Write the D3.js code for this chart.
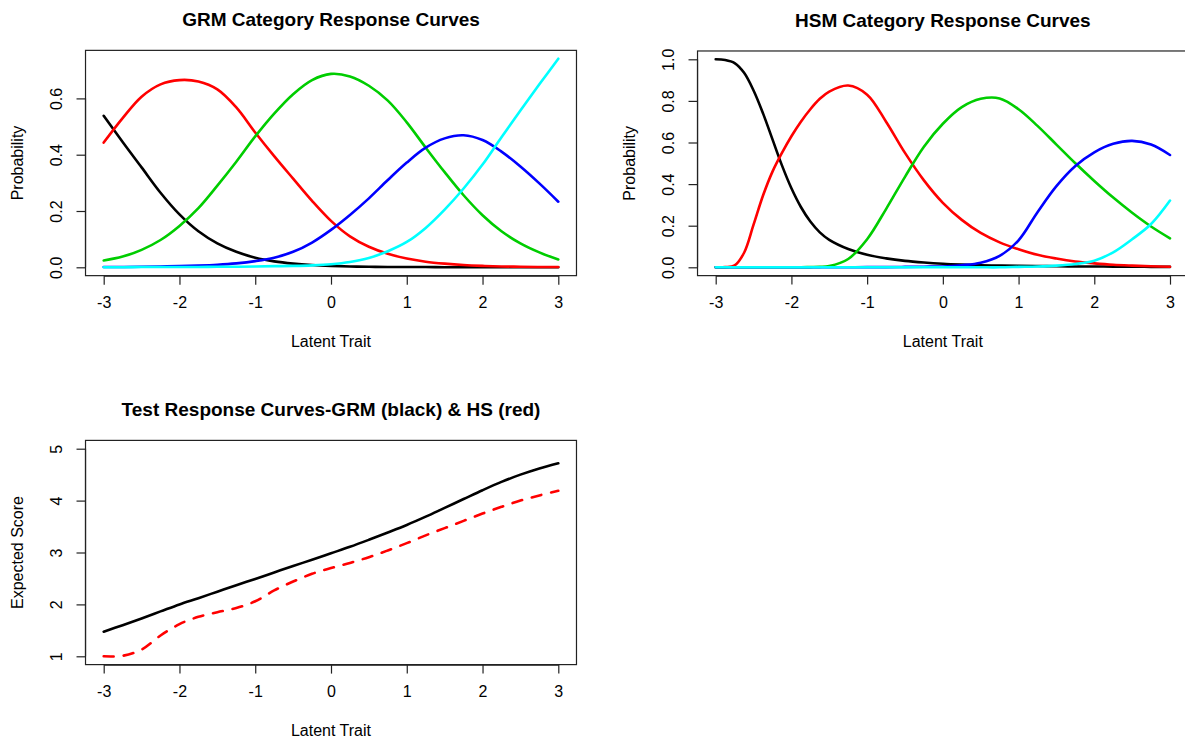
<!DOCTYPE html>
<html>
<head>
<meta charset="utf-8">
<script src="https://cdn.jsdelivr.net/npm/d3@7"></script>
<style>
  html, body { margin: 0; padding: 0; background: #fff; }
  svg { display: block; font-family: "Liberation Sans", Arial, Helvetica, sans-serif; }
  .tick text { font-size: 16px; fill: #000; }
  .axis path, .axis line { stroke: #222; stroke-width: 1.2; }
</style>
</head>
<body>
<svg id="chart" width="1185" height="742"></svg>
<script>
// Latent trait grid for the GRM and test curves
const theta = [-3, -2.75, -2.5, -2.25, -2, -1.75, -1.5, -1.25, -1, -0.75, -0.5, -0.25,
               0, 0.25, 0.5, 0.75, 1, 1.25, 1.5, 1.75, 2, 2.25, 2.5, 2.75, 3];
// Finer grid at the low end where the HSM curves turn sharply
const thetaHSM = [-3, -2.875, -2.75, -2.625, -2.5, -2.375, -2.25, -2.125, -2, -1.875, -1.75, -1.625,
                  -1.5, -1.25, -1, -0.75, -0.5, -0.25, 0, 0.25, 0.5, 0.75, 1, 1.25, 1.5, 1.75,
                  2, 2.25, 2.5, 2.75, 3];

// Graded response model: category response probabilities
const grmCat1 = [0.538, 0.445, 0.355, 0.265, 0.188, 0.128, 0.085, 0.055, 0.034, 0.021, 0.013, 0.008,
                 0.005, 0.003, 0.002, 0.001, 0.001, 0.001, 0, 0, 0, 0, 0, 0, 0];
const grmCat2 = [0.443, 0.530, 0.606, 0.650, 0.665, 0.660, 0.632, 0.568, 0.479, 0.395, 0.315, 0.236,
                 0.165, 0.110, 0.073, 0.048, 0.031, 0.020, 0.013, 0.008, 0.005, 0.003, 0.002, 0.001, 0.001];
const grmCat3 = [0.024, 0.038, 0.062, 0.097, 0.147, 0.210, 0.290, 0.375, 0.465, 0.546, 0.615, 0.665,
                 0.687, 0.678, 0.645, 0.592, 0.515, 0.425, 0.338, 0.256, 0.185, 0.128, 0.085, 0.053, 0.028];
const grmCat4 = [0.001, 0.001, 0.002, 0.003, 0.004, 0.006, 0.009, 0.014, 0.022, 0.034, 0.055, 0.088,
                 0.133, 0.186, 0.245, 0.310, 0.372, 0.425, 0.458, 0.469, 0.452, 0.411, 0.358, 0.298, 0.233];
const grmCat5 = [0, 0, 0.001, 0.001, 0.001, 0.001, 0.002, 0.002, 0.003, 0.004, 0.005, 0.007,
                 0.011, 0.019, 0.033, 0.057, 0.090, 0.140, 0.205, 0.280, 0.365, 0.462, 0.557, 0.650, 0.741];

// Hybrid (HSM) model: category response probabilities, on thetaHSM
const hsmCat1 = [1.000, 0.997, 0.982, 0.935, 0.850, 0.740, 0.615, 0.490, 0.380, 0.290, 0.220, 0.168,
                 0.132, 0.088, 0.060, 0.043, 0.031, 0.023, 0.017, 0.013, 0.010, 0.008, 0.007, 0.006,
                 0.005, 0.004, 0.004, 0.003, 0.003, 0.002, 0.002];
const hsmCat2 = [0, 0.001, 0.009, 0.070, 0.205, 0.345, 0.460, 0.550, 0.630, 0.700, 0.760, 0.810,
                 0.845, 0.874, 0.830, 0.700, 0.550, 0.418, 0.310, 0.228, 0.165, 0.120, 0.087, 0.060,
                 0.042, 0.028, 0.019, 0.012, 0.008, 0.005, 0.003];
const hsmCat3 = [0, 0, 0, 0, 0, 0, 0, 0, 0, 0, 0.001, 0.002,
                 0.006, 0.040, 0.135, 0.280, 0.435, 0.580, 0.690, 0.770, 0.810, 0.812, 0.760, 0.680,
                 0.590, 0.500, 0.415, 0.335, 0.262, 0.196, 0.139];
const hsmCat4 = [0, 0, 0, 0, 0, 0, 0, 0, 0, 0, 0, 0,
                 0, 0, 0.001, 0.001, 0.002, 0.003, 0.004, 0.010, 0.022, 0.055, 0.130, 0.265,
                 0.390, 0.487, 0.553, 0.594, 0.608, 0.590, 0.540];
const hsmCat5 = [0, 0, 0, 0, 0, 0, 0, 0, 0, 0, 0, 0,
                 0, 0, 0, 0, 0, 0, 0, 0, 0, 0, 0.002, 0.004,
                 0.008, 0.016, 0.032, 0.072, 0.135, 0.208, 0.321];

// Test response curves (expected total score)
const trcGRM = [1.475, 1.60, 1.73, 1.865, 2.00, 2.12, 2.245, 2.37, 2.49, 2.615, 2.74, 2.86,
                2.985, 3.11, 3.245, 3.385, 3.53, 3.69, 3.86, 4.03, 4.20, 4.36, 4.50, 4.62, 4.72];
const trcHSM = [1.00, 1.01, 1.13, 1.40, 1.62, 1.76, 1.85, 1.93, 2.06, 2.27, 2.44, 2.59,
                2.70, 2.80, 2.91, 3.04, 3.18, 3.33, 3.47, 3.61, 3.75, 3.88, 4.00, 4.10, 4.19];

// Axis ticks
const xTicks = [-3, -2, -1, 0, 1, 2, 3];
const grmYTicks = [0, 0.2, 0.4, 0.6];
const hsmYTicks = [0, 0.2, 0.4, 0.6, 0.8, 1.0];
const trcYTicks = [1, 2, 3, 4, 5];

const catColors = ["#000000", "#ff0000", "#00cd00", "#0000ff", "#00ffff"];

const svg = d3.select("#chart");
svg.append("rect").attr("width", 1185).attr("height", 742).attr("fill", "#fff");

// plain ASCII hyphen for negative tick labels
const intFmt = d => String(d);
const oneDec = d => d.toFixed(1);

// Draws one base-graphics style panel: box, axes, titles and curves
function panel(opts) {
  const x = d3.scaleLinear().domain([-3, 3]).range(opts.xRange);
  const y = d3.scaleLinear().domain(opts.yDomain).range(opts.yRange);
  const pad = (opts.yLim[1] - opts.yLim[0]) * 0.04;
  const left = x(-3.24), right = x(3.24);
  const top = y(opts.yLim[1] + pad), bottom = y(opts.yLim[0] - pad);
  const g = svg.append("g");

  const clipId = "clip" + Math.round(left) + "_" + Math.round(top);
  g.append("clipPath").attr("id", clipId)
    .append("rect").attr("x", left).attr("y", top)
    .attr("width", right - left).attr("height", bottom - top);

  const cg = g.append("g").attr("clip-path", `url(#${clipId})`);
  opts.series.forEach(s => {
    const line = d3.line()
      .x((d, i) => x(opts.grid[i]))
      .y(d => y(d))
      .curve(d3.curveCatmullRom.alpha(0.5));
    cg.append("path")
      .attr("d", line(s.values))
      .attr("fill", "none")
      .attr("stroke", s.color)
      .attr("stroke-width", 2.6)
      .attr("stroke-linejoin", "round")
      .attr("stroke-linecap", "round")
      .attr("stroke-dasharray", s.dash || null);
  });

  // box
  g.append("rect")
    .attr("x", left).attr("y", top)
    .attr("width", right - left).attr("height", bottom - top)
    .attr("fill", "none").attr("stroke", "#222").attr("stroke-width", 1.2);

  // x axis
  const xa = g.append("g").attr("class", "axis")
    .attr("transform", `translate(0,${bottom})`)
    .call(d3.axisBottom(x).tickValues(xTicks).tickSize(9).tickSizeOuter(0).tickFormat(intFmt));
  xa.selectAll(".tick text").attr("y", 32.8).attr("dy", null);

  // y axis
  const ya = g.append("g").attr("class", "axis")
    .attr("transform", `translate(${left},0)`)
    .call(d3.axisLeft(y).tickValues(opts.yTicks).tickSize(9).tickSizeOuter(0)
      .tickFormat(opts.yFormat));
  ya.select(".domain").attr("d", `M0,${y(opts.yTicks[0])}V${y(opts.yTicks[opts.yTicks.length - 1])}`);
  ya.selectAll(".tick text")
    .attr("transform", "rotate(-90)")
    .attr("x", 0).attr("y", -24).attr("dy", null)
    .attr("text-anchor", "middle");

  // titles
  const cx = (left + right) / 2;
  g.append("text").attr("x", cx).attr("y", top - 24)
    .attr("text-anchor", "middle").attr("font-size", 19).attr("font-weight", "bold")
    .text(opts.title);
  g.append("text").attr("x", cx).attr("y", bottom + 71.5)
    .attr("text-anchor", "middle").attr("font-size", 16)
    .text("Latent Trait");
  const my = (top + bottom) / 2;
  g.append("text")
    .attr("transform", `translate(${left - 62.8},${my}) rotate(-90)`)
    .attr("text-anchor", "middle").attr("font-size", 16)
    .text(opts.yLabel);
}

panel({
  title: "GRM Category Response Curves",
  yLabel: "Probability",
  grid: theta,
  xRange: [103.7, 558.3],
  yDomain: [0, 0.6], yRange: [267.3, 98.4],
  yLim: [0, 0.741],
  yTicks: grmYTicks, yFormat: oneDec,
  series: [grmCat1, grmCat2, grmCat3, grmCat4, grmCat5].map((v, i) => ({ values: v, color: catColors[i] }))
});

panel({
  title: "HSM Category Response Curves",
  yLabel: "Probability",
  grid: thetaHSM,
  xRange: [715.7, 1170],
  yDomain: [0, 1], yRange: [267.3, 59.3],
  yLim: [0, 1],
  yTicks: hsmYTicks, yFormat: oneDec,
  series: [hsmCat1, hsmCat2, hsmCat3, hsmCat4, hsmCat5].map((v, i) => ({ values: v, color: catColors[i] }))
});

panel({
  title: "Test Response Curves-GRM (black) & HS (red)",
  yLabel: "Expected Score",
  grid: theta,
  xRange: [103.7, 558.3],
  yDomain: [1, 5], yRange: [656.3, 448.7],
  yLim: [1, 5],
  yTicks: trcYTicks, yFormat: intFmt,
  series: [
    { values: trcGRM, color: "#000000" },
    { values: trcHSM, color: "#ff0000", dash: "10,10" }
  ]
});
</script>
</body>
</html>
